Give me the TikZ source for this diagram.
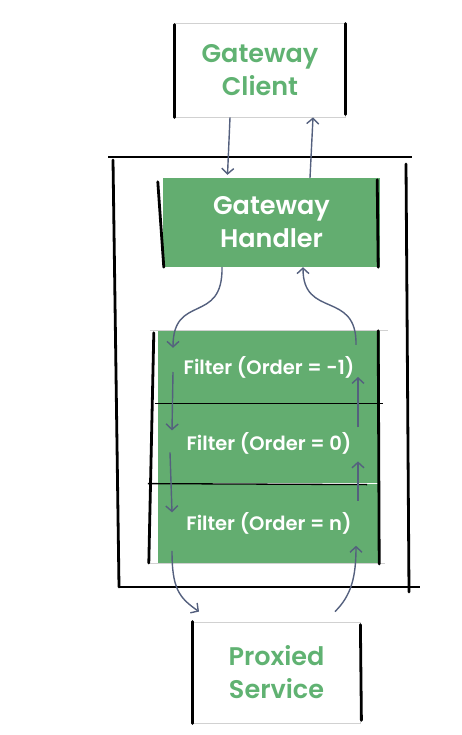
\documentclass[tikz,border=0pt]{standalone}
\usepackage{fontspec}
\setmainfont{Poppins}[BoldFont={Poppins SemiBold}]
\usetikzlibrary{positioning,arrows.meta}

\definecolor{gwgreen}{RGB}{99,173,112}
\definecolor{txtgreen}{RGB}{96,178,114}
\definecolor{arrowblue}{RGB}{84,96,126}

\begin{document}
\begin{tikzpicture}[x=1pt,y=-1pt]
			\tikzstyle{box}=[rectangle, inner sep=0pt, align=center, font=\bfseries\fontsize{25.5}{33}\selectfont]
			\tikzstyle{outbox}=[box, draw=black!18, line width=0.8pt, text=txtgreen]
			\tikzstyle{inbox}=[box, fill=gwgreen, text=white]
			\tikzstyle{filterbox}=[rectangle, inner sep=0pt, fill=gwgreen, text=white, minimum width=222pt, font=\bfseries\fontsize{19.5}{22}\selectfont]
			\tikzstyle{marker}=[line width=2.8pt, line cap=round]
			\tikzstyle{edge}=[draw=arrowblue, line width=1.4pt, -{Straight Barb[length=5.5pt,width=12pt]}]
			\useasboundingbox (0,0) rectangle (462,735);
			% boxes
			\node[outbox, minimum width=170pt, minimum height=94pt] (client) at (260,70) {Gateway\\Client};
			\node[inbox, minimum width=217pt, minimum height=89pt] (handler) at (271.5,222.5) {Gateway\\Handler};
			\node[filterbox, minimum height=72pt] (f1) at (269,367) {Filter (Order = -1)};
			\node[filterbox, minimum height=80pt, below=0pt of f1] (f2) {Filter (Order = 0)};
			\node[filterbox, minimum height=79pt, below=0pt of f2] (f3) {Filter (Order = n)};
			\node[outbox, minimum width=167pt, minimum height=101pt] (proxied) at (276.5,672.5) {Proxied\\Service};
			% outer frame
			\draw[line width=1.2pt] (108,157) -- (412,157);
			\draw[marker] (113,160) -- (119,587);
			\draw[marker] (406,164) -- (409,592);
			\draw[line width=1.2pt] (119,587) -- (420,587);
			% sketchy sides
			\draw[marker] ([yshift=-2pt]client.north west) -- (client.south west);
			\draw[marker] ([yshift=-1pt]client.north east) -- ([yshift=3pt]client.south east);
			\draw[marker] ([xshift=-5pt,yshift=-4pt]handler.north west) -- ([xshift=1pt]handler.south west);
			\draw[marker] ([xshift=-3pt,yshift=-2pt]handler.north east) -- ([xshift=-2pt]handler.south east);
			\draw[black!18, line width=0.8pt] ([xshift=-8pt]f1.north west) -- ([xshift=8pt]f1.north east);
			\draw[black!18, line width=0.8pt] ([xshift=-10pt]f3.south west) -- ([xshift=5pt]f3.south east);
			\draw[marker] ([xshift=-4pt,yshift=-2pt]f1.north west) -- ([xshift=-9pt]f3.south west);
			\draw[marker] ([xshift=-2pt]f1.north east) -- ([xshift=-1pt,yshift=-1pt]f3.south east);
			\draw[line width=1.3pt] ([xshift=-3pt]f1.south west) -- ([xshift=3pt]f1.south east);
			\draw[line width=1.3pt] ([xshift=-10pt]f2.south west) -- ([xshift=-13pt,yshift=-1pt]f2.south east);
			\draw[marker] (proxied.north west) -- (proxied.south west);
			\draw[marker] ([yshift=-3pt]proxied.north east) -- ([xshift=1pt,yshift=3pt]proxied.south east);
			% arrows
			\draw[edge] ([xshift=-30pt]client.south) -- ([xshift=-44pt,yshift=3pt]handler.north);
			\draw[edge] ([xshift=38.5pt]handler.north) -- ([xshift=53pt]client.south);
			\draw[edge] ([xshift=-49.5pt]handler.south) .. controls +(1,58) and +(0,-55) .. ([xshift=-96pt,yshift=-17pt]f1.north);
			\draw[edge] ([xshift=87pt,yshift=-14pt]f1.north) .. controls +(1,-55) and +(0,52) .. ([xshift=31.5pt]handler.south);
			\draw[edge] ([xshift=-96pt,yshift=-5pt]f1.center) -- ([xshift=-97pt,yshift=13pt]f2.center);
			\draw[edge] ([xshift=-99pt,yshift=-9pt]f2.center) -- ([xshift=-97pt,yshift=11pt]f3.center);
			\draw[edge] ([xshift=89pt,yshift=22.5pt]f3.center) -- ([xshift=89pt,yshift=-18pt]f2.center);
			\draw[edge] ([xshift=89pt,yshift=16pt]f2.center) -- ([xshift=89pt,yshift=-10pt]f1.center);
			\draw[edge] ([xshift=-97pt,yshift=-27.5pt]f3.center) .. controls +(0,38) and +(-20,-14) .. ([xshift=-77.5pt,yshift=10pt]proxied.north);
			\draw[edge] ([xshift=58.5pt,yshift=10pt]proxied.north) .. controls +(16,-16) and +(0,32) .. ([xshift=87pt,yshift=-22.5pt]f3.center);
		\end{tikzpicture}
\end{document}
